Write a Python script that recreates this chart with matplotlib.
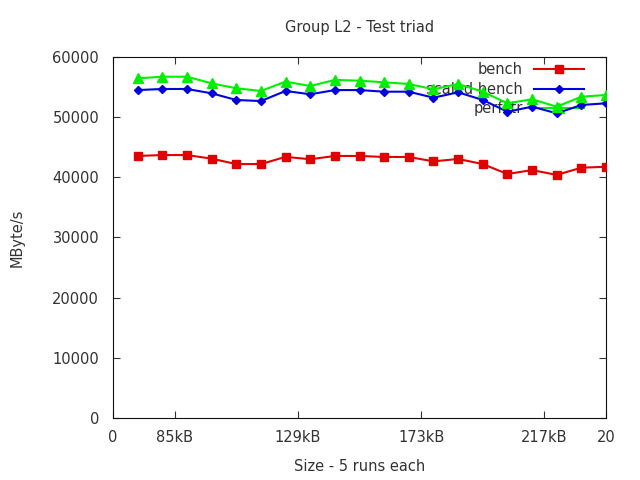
import matplotlib
matplotlib.use('Agg')
import matplotlib.pyplot as plt

# x positions are run indices; labelled ticks sit between them
xs = list(range(1, 21))
bench = [43550, 43700, 43700, 43100, 42200, 42200, 43400, 43000, 43550, 43550,
         43380, 43380, 42650, 43050, 42200, 40550, 41200, 40400, 41600, 41750]
scaled_bench = [54500, 54680, 54680, 53960, 52850, 52680, 54350, 53800, 54500, 54500,
                54230, 54230, 53230, 54130, 52850, 50900, 51740, 50640, 52020, 52300]
perfctr = [56450, 56720, 56720, 55620, 54800, 54350, 55900, 55180, 56180, 56060,
           55790, 55510, 54630, 55510, 54230, 52300, 52970, 51740, 53400, 53680]

xtick_pos = [0, 2.5, 7.5, 12.5, 17.5, 20]
xtick_labels = ['0', '85kB', '129kB', '173kB', '217kB', '20']
ytick_pos = [0, 10000, 20000, 30000, 40000, 50000, 60000]

plt.rcParams['font.family'] = ['DejaVu Sans']
fig = plt.figure(figsize=(6.4, 4.8), dpi=100)
ax = fig.add_axes([0.1766, 0.1292, 0.7703, 0.7521])

ax.plot(xs, bench, color='#e00000', lw=1.5, marker='s', ms=6, label='bench', zorder=3)
ax.plot(xs, scaled_bench, color='#0000dd', lw=1.5, marker='D', ms=4.5, label='scaled bench', zorder=3)
ax.plot(xs, perfctr, color='#00ee00', lw=1.5, marker='^', ms=6.5, label='perfctr', zorder=4)

ax.set_xlim(0, 20)
ax.set_ylim(0, 60000)
ax.set_xticks(xtick_pos)
ax.set_xticklabels(xtick_labels)
ax.set_yticks(ytick_pos)
ax.tick_params(direction='in', top=True, right=True, length=5, labelsize=10.5,
               colors='#333333', pad=10)
ax.tick_params(axis='x', pad=9)
for s in ax.spines.values():
    s.set_color('#111111')

ax.set_title('Group L2 - Test triad', fontsize=10.5, pad=18, color='#333333')
ax.set_xlabel('Size - 5 runs each', fontsize=10.5, color='#333333', labelpad=10)
ax.set_ylabel('MByte/s', fontsize=10.5, color='#333333', labelpad=20)

leg = ax.legend(loc='upper right', frameon=False, markerfirst=False, fontsize=10.5,
                handlelength=3.4, borderaxespad=0.1, labelspacing=0.3,
                bbox_to_anchor=(0.97, 1.005))
leg.set_zorder(1)
for t in leg.get_texts():
    t.set_color('#333333')

plt.savefig('out.png')
